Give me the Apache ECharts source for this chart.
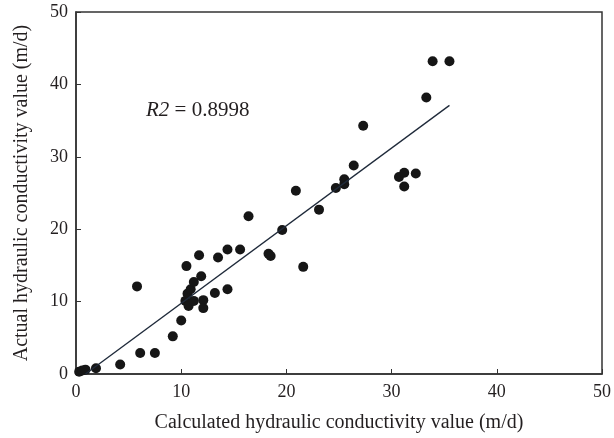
<!DOCTYPE html>
<html>
<head>
<meta charset="utf-8">
<script src="https://cdn.jsdelivr.net/npm/echarts@6/dist/echarts.min.js"></script>
<style>
  html, body { margin: 0; padding: 0; background: #fff; }
  #chart { width: 614px; height: 438px; }
</style>
</head>
<body>
<div id="chart"></div>
<script>
// calculated (x) vs actual (y) hydraulic conductivity, m/d
var calcK = [0.3, 0.6, 0.9, 1.9, 4.2, 6.1, 7.5, 9.2, 10.0, 10.4, 10.7, 11.2, 12.1, 12.1,
  10.6, 10.9, 11.2, 11.9, 10.5, 5.8, 13.2, 14.4, 11.7, 13.5, 14.4, 15.6, 16.4, 18.3,
  18.5, 19.6, 20.9, 21.6, 23.1, 24.7, 25.5, 25.5, 26.4, 27.3, 30.7, 31.2, 31.2, 32.3,
  33.3, 33.9, 35.5];
var actualK = [0.3, 0.5, 0.6, 0.8, 1.3, 2.9, 2.9, 5.2, 7.4, 10.1, 9.4, 10.1, 10.2, 9.1,
  11.1, 11.7, 12.7, 13.5, 14.9, 12.1, 11.2, 11.7, 16.4, 16.1, 17.2, 17.2, 21.8, 16.6,
  16.3, 19.9, 25.3, 14.8, 22.7, 25.7, 26.2, 26.9, 28.8, 34.3, 27.2, 27.8, 25.9, 27.7,
  38.2, 43.2, 43.2];
// fitted line end points
var fitX = [0.9, 35.5];
var fitY = [0, 37.1];
var axisTicks = [0, 10, 20, 30, 40, 50];

var pts = [];
for (var i = 0; i < calcK.length; i++) {
  pts.push([calcK[i], actualK[i]]);
}
var fit = [];
for (var j = 0; j < fitX.length; j++) {
  fit.push([fitX[j], fitY[j]]);
}

var font = 'Liberation Serif';
var txt = '#231f20';
var myChart = echarts.init(document.getElementById('chart'));
myChart.setOption({
  animation: false,
  grid: {
    left: 76, right: 10, top: 12, bottom: 64,
    show: true,
    borderColor: '#333',
    borderWidth: 1.5
  },
  xAxis: {
    type: 'value',
    min: axisTicks[0],
    max: axisTicks[axisTicks.length - 1],
    interval: 10,
    name: 'Calculated hydraulic conductivity value (m/d)',
    nameLocation: 'middle',
    nameGap: 39,
    nameTextStyle: { fontFamily: font, fontSize: 20, color: txt },
    axisLine: { lineStyle: { color: '#333', width: 1.5 } },
    axisTick: { inside: true, length: 5, lineStyle: { color: '#333' } },
    axisLabel: { fontFamily: font, fontSize: 18, color: txt, margin: 9 },
    splitLine: { show: false }
  },
  yAxis: {
    type: 'value',
    min: axisTicks[0],
    max: axisTicks[axisTicks.length - 1],
    interval: 10,
    name: 'Actual hydraulic conductivity value (m/d)',
    nameLocation: 'middle',
    nameGap: 44,
    nameTextStyle: { fontFamily: font, fontSize: 20, color: txt },
    axisLine: { lineStyle: { color: '#333', width: 1.5 } },
    axisTick: { inside: true, length: 5, lineStyle: { color: '#333' } },
    axisLabel: { fontFamily: font, fontSize: 18, color: txt, margin: 8 },
    splitLine: { show: false }
  },
  graphic: [{
    type: 'text',
    left: 146,
    top: 100,
    style: {
      text: '{i|R2} = 0.8998',
      fontFamily: font,
      fontSize: 21,
      fill: txt,
      rich: {
        i: { fontFamily: font, fontStyle: 'italic', fontSize: 21, color: txt }
      }
    }
  }],
  series: [
    {
      type: 'scatter',
      data: pts,
      symbolSize: 10,
      itemStyle: { color: '#161616', opacity: 1 },
      z: 3
    },
    {
      type: 'line',
      data: fit,
      symbol: 'none',
      lineStyle: { color: '#1f2a3a', width: 1.3 },
      z: 4
    }
  ]
});
</script>
</body>
</html>
